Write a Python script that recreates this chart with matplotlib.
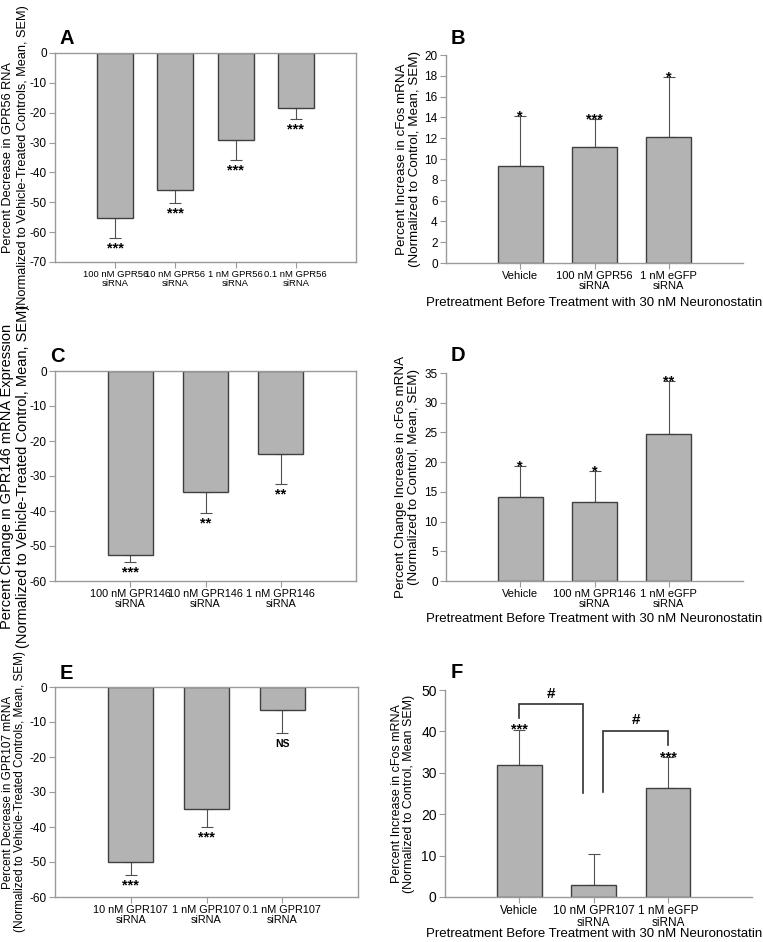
import matplotlib
matplotlib.use("Agg")
import matplotlib.pyplot as plt
import numpy as np

plt.rcParams['font.family'] = ['Liberation Sans', 'DejaVu Sans']

# ---------------- data ----------------
A_labels = ["100 nM GPR56\nsiRNA", "10 nM GPR56\nsiRNA", "1 nM GPR56\nsiRNA", "0.1 nM GPR56\nsiRNA"]
A_means = [-55.3, -46.0, -29.3, -18.3]
A_sem = [6.8, 4.3, 6.6, 3.9]
A_sig = ["***", "***", "***", "***"]

B_labels = ["Vehicle", "100 nM GPR56\nsiRNA", "1 nM eGFP\nsiRNA"]
B_means = [9.3, 11.2, 12.1]
B_sem = [4.8, 2.6, 5.8]
B_sig = ["*", "***", "*"]

C_labels = ["100 nM GPR146\nsiRNA", "10 nM GPR146\nsiRNA", "1 nM GPR146\nsiRNA"]
C_means = [-52.5, -34.5, -23.6]
C_sem = [2.1, 6.2, 8.6]
C_sig = ["***", "**", "**"]

D_labels = ["Vehicle", "100 nM GPR146\nsiRNA", "1 nM eGFP\nsiRNA"]
D_means = [14.1, 13.3, 24.7]
D_sem = [5.2, 5.2, 8.9]
D_sig = ["*", "*", "**"]

E_labels = ["10 nM GPR107\nsiRNA", "1 nM GPR107\nsiRNA", "0.1 nM GPR107\nsiRNA"]
E_means = [-50.0, -34.8, -6.7]
E_sem = [3.8, 5.2, 6.4]
E_sig = ["***", "***", "NS"]

F_labels = ["Vehicle", "10 nM GPR107\nsiRNA", "1 nM eGFP\nsiRNA"]
F_means = [32.0, 3.0, 26.4]
F_sem = [8.4, 7.4, 7.3]
F_sig = ["***", "", "***"]
# brackets: (left bar, right bar, top y, left leg bottom y, right leg bottom y)
F_brackets = [(0, 1, 46.6, 43.3, 25.2), (1, 2, 40.2, 25.4, 36.8)]
F_bracket_xoff = [(0.0, -0.15), (0.13, 0.0)]

xlabel_text = "Pretreatment Before Treatment with 30 nM Neuronostatin"

# ---------------- styling ----------------
W, H = 763, 942
fig = plt.figure(figsize=(W / 100, H / 100), dpi=100)

BAR_FC = "#b3b3b3"
BAR_EC = "#404040"
SPINE_C = "#9a9a9a"
ERR_C = "#505050"


def add_axes(l, r, t, b):
    return fig.add_axes([l / W, 1 - b / H, (r - l) / W, (b - t) / H])


def panel(ax, labels, means, sem, sig, ylim, yticks, ylabel, box, letter,
          letter_xy, ylab_fs=10, ylab_x=-0.08, ylab_ls=1.15, ytick_fs=8.5,
          xtick_fs=7, sig_fs=10.5, xlim=None):
    x = np.arange(len(means))
    ax.bar(x, means, width=0.6, color=BAR_FC, edgecolor=BAR_EC, linewidth=1.0, zorder=2)
    means_a = np.array(means)
    sem_a = np.array(sem)
    lower = np.where(means_a < 0, sem_a, 0)
    upper = np.where(means_a >= 0, sem_a, 0)
    ax.errorbar(x, means, yerr=[lower, upper], fmt='none', ecolor=ERR_C,
                elinewidth=0.8, capsize=4.5, capthick=0.8, zorder=1)
    for xi, m, s, t in zip(x, means, sem, sig):
        if not t:
            continue
        fs = 7.5 if t == "NS" else sig_fs
        if m < 0:
            ax.annotate(t, (xi, m - s), xytext=(0, -10.4), textcoords='offset points',
                        ha='center', va='baseline', fontsize=fs, fontweight='bold')
        else:
            ax.annotate(t, (xi, m + s), xytext=(0, -3.0), textcoords='offset points',
                        ha='center', va='baseline', fontsize=fs, fontweight='bold')
    ax.set_ylim(*ylim)
    ax.set_yticks(yticks)
    ax.set_yticklabels([str(v) for v in yticks], fontsize=ytick_fs)
    ax.set_xticks(x)
    ax.set_xticklabels(labels, fontsize=xtick_fs, linespacing=1.0)
    ax.set_xlim(*(xlim if xlim else (-1, len(means))))
    ax.tick_params(axis='both', direction='out', length=4, width=0.8, color=SPINE_C, pad=2)
    for sp in ax.spines.values():
        sp.set_color(SPINE_C)
        sp.set_linewidth(1.0)
    if not box:
        ax.spines['top'].set_visible(False)
        ax.spines['right'].set_visible(False)
    ax.set_ylabel(ylabel, fontsize=ylab_fs, linespacing=ylab_ls)
    ax.yaxis.set_label_coords(ylab_x, 0.5)
    fig.text(letter_xy[0] / W, 1 - letter_xy[1] / H, letter, fontsize=14.5,
             fontweight='bold', ha='left', va='baseline')


def xlabel_at(ycenter):
    fig.text(594 / W, 1 - ycenter / H, xlabel_text, fontsize=9.5, ha='center', va='center')


# Panel A
axA = add_axes(55, 356, 53, 262)
panel(axA, A_labels, A_means, A_sem, A_sig, (-70, 0), list(range(0, -71, -10)),
      "Percent Decrease in GPR56 RNA\n(Normalized to Vehicle-Treated Controls, Mean, SEM)",
      True, "A", (59, 44), ylab_fs=9.2, ylab_x=(29 - 55) / 301, ylab_ls=1.35, xtick_fs=6.8)

# Panel B
axB = add_axes(446, 743, 55, 263)
panel(axB, B_labels, B_means, B_sem, B_sig, (0, 20), list(range(0, 21, 2)),
      "Percent Increase in cFos mRNA\n(Normalized to Control, Mean, SEM)",
      False, "B", (451, 44), ylab_fs=9.6, ylab_x=(421 - 446) / 297, ylab_ls=1.13,
      xtick_fs=8)
xlabel_at(303)

# Panel C
axC = add_axes(55, 356, 371, 581)
panel(axC, C_labels, C_means, C_sem, C_sig, (-60, 0), list(range(0, -61, -10)),
      "Percent Change in GPR146 mRNA Expression\n(Normalized to Vehicle-Treated Control, Mean, SEM)",
      True, "C", (50, 362), ylab_fs=10.5, ylab_x=(30 - 55) / 301, ylab_ls=1.15, xtick_fs=7.8)

# Panel D
axD = add_axes(446, 743, 373, 581)
panel(axD, D_labels, D_means, D_sem, D_sig, (0, 35), list(range(0, 36, 5)),
      "Percent Change Increase in cFos mRNA\n(Normalized to Control, Mean, SEM)",
      False, "D", (451, 361), ylab_fs=9.6, ylab_x=(420 - 446) / 297, ylab_ls=1.13,
      xtick_fs=8)
xlabel_at(619)

# Panel E
axE = add_axes(55, 358, 687, 897)
panel(axE, E_labels, E_means, E_sem, E_sig, (-60, 0), list(range(0, -61, -10)),
      "Percent Decrease in GPR107 mRNA\n(Normalized to Vehicle-Treated Controls, Mean, SEM)",
      True, "E", (60, 679), ylab_fs=8.5, ylab_x=(26 - 55) / 303, ylab_ls=1.05, xtick_fs=7.8)

# Panel F
axF = add_axes(445, 752, 690, 897)
panel(axF, F_labels, F_means, F_sem, F_sig, (0, 50), list(range(0, 51, 10)),
      "Percent Increase in cFos mRNA\n(Normalized to Control, Mean SEM)",
      False, "F", (451, 678), ylab_fs=9, ylab_x=(415 - 445) / 307, ylab_ls=1.05,
      ytick_fs=10, xtick_fs=8.5, xlim=(-1, 3.13))
xlabel_at(934)
for (i0, i1, top, lb, rb), (o0, o1) in zip(F_brackets, F_bracket_xoff):
    x0 = i0 + o0
    x1 = i1 + o1
    axF.plot([x0, x0, x1, x1], [lb, top, top, rb], color="#303030", lw=1.2,
             solid_joinstyle='miter', zorder=3)
    axF.text((x0 + x1) / 2, top + 0.8, "#", ha='center', va='bottom',
             fontsize=11, fontweight='bold')

fig.savefig("out.png", dpi=100)
